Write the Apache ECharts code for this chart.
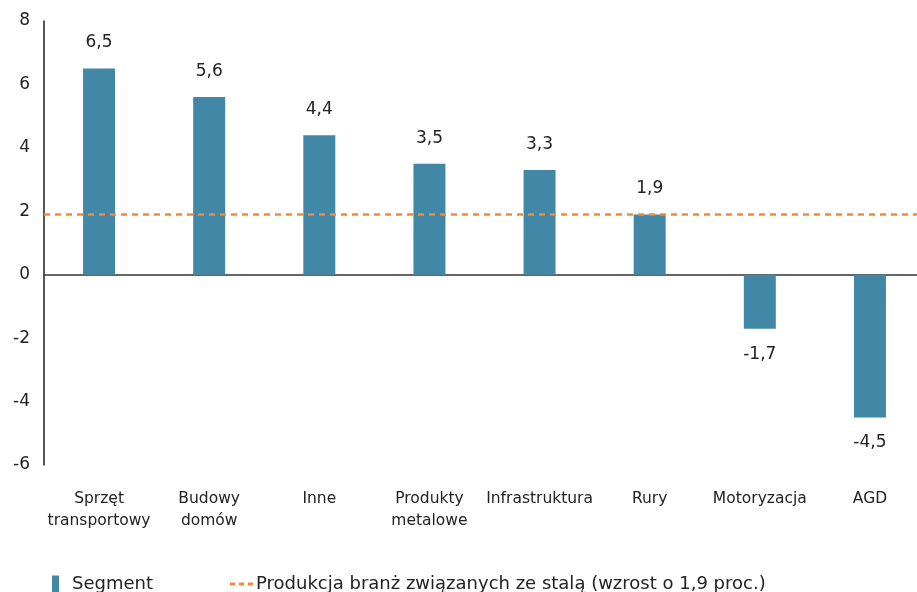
<!DOCTYPE html>
<html>
<head>
<meta charset="utf-8">
<script src="https://cdn.jsdelivr.net/npm/echarts@6/dist/echarts.min.js"></script>
<style>
  html, body { margin: 0; padding: 0; background: #fff; overflow: hidden; }
  #chart { width: 930px; height: 592px; }
</style>
</head>
<body>
<div id="chart"></div>
<script>
// Dynamika produkcji według segmentów odbiorców stali (proc.)
const categories = ['Sprzęt\ntransportowy', 'Budowy\ndomów', 'Inne', 'Produkty\nmetalowe', 'Infrastruktura', 'Rury', 'Motoryzacja', 'AGD'];
const segmentValues = [6.5, 5.6, 4.4, 3.5, 3.3, 1.9, -1.7, -4.5];
const steelIndustryGrowth = 1.9;
const yTicks = { min: -6, max: 8, interval: 2 };

const barName = 'Segment';
const lineName = 'Produkcja branż związanych ze stalą (wzrost o 1,9 proc.)';

const FONT = 'DejaVu Sans';
const TEXT = '#222';

const chart = echarts.init(document.getElementById('chart'), null, { renderer: 'canvas' });

const fmt = v => String(v).replace('.', ',');

chart.setOption({
  animation: false,
  backgroundColor: '#ffffff',
  grid: { left: 44, top: 21, width: 881, height: 444, containLabel: false },
  legend: [
    {
      data: [barName],
      left: 52, top: 575, padding: 0,
      icon: 'rect', itemWidth: 7, itemHeight: 17,
      textStyle: { fontFamily: FONT, fontSize: 18, color: TEXT, padding: [0, 0, 0, 8] }
    },
    {
      data: [{ name: lineName, icon: 'path://M0,0h5v3h-5z M9,0h5v3h-5z M18,0h5v3h-5z' }],
      left: 230, top: 575, padding: 0,
      itemWidth: 23, itemHeight: 3,
      textStyle: { fontFamily: FONT, fontSize: 18, color: TEXT, padding: [0, 0, 0, -2] }
    }
  ],
  xAxis: [
    {
      type: 'category',
      data: categories,
      position: 'bottom',
      axisLine: { show: false, onZero: false },
      axisTick: { show: false },
      axisLabel: {
        margin: 23, interval: 0, lineHeight: 22,
        fontFamily: FONT, fontSize: 15.5, color: TEXT
      }
    },
    {
      type: 'category',
      data: categories,
      position: 'bottom',
      axisLine: { show: true, onZero: true, lineStyle: { color: '#333', width: 1.5 } },
      axisTick: { show: false },
      axisLabel: { show: false }
    }
  ],
  yAxis: {
    type: 'value',
    min: yTicks.min, max: yTicks.max, interval: yTicks.interval,
    axisLine: { show: true, lineStyle: { color: '#222', width: 1.5 } },
    axisTick: { show: false },
    splitLine: { show: false },
    axisLabel: {
      margin: 14,
      fontFamily: FONT, fontSize: 17, color: TEXT
    }
  },
  series: [
    {
      name: barName,
      type: 'bar',
      xAxisIndex: 0,
      barWidth: 32,
      itemStyle: { color: '#4188a6' },
      data: segmentValues.map(v => ({
        value: v,
        label: { position: v >= 0 ? 'top' : 'bottom' }
      })),
      label: {
        show: true,
        distance: 17,
        formatter: p => fmt(p.value),
        fontFamily: FONT, fontSize: 17, color: TEXT
      }
    },
    {
      name: lineName,
      type: 'line',
      xAxisIndex: 0,
      data: [],
      itemStyle: { color: '#f5883a' },
      lineStyle: { color: '#f5883a', type: 'dashed' },
      markLine: {
        silent: true,
        symbol: 'none',
        label: { show: false },
        lineStyle: { color: '#f5883a', type: [6, 5], width: 2.5 },
        data: [{ yAxis: steelIndustryGrowth }]
      }
    }
  ]
});
</script>
</body>
</html>
